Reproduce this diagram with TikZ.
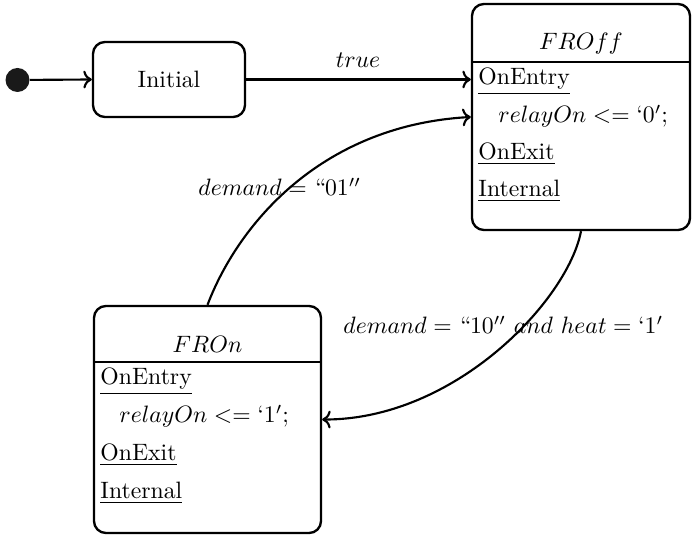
\documentclass[tikz,border=0pt]{standalone}
\usetikzlibrary{arrows.meta}
\begin{document}
\begin{tikzpicture}[x=0.422pt,y=-0.422pt,
  stbox/.style={draw,line width=1pt,rounded corners=5pt,inner sep=0pt},
  dotnode/.style={circle,fill=black!90,inner sep=0pt,minimum size={24*0.422pt}},
  arr/.style={line width=0.9pt,->},
  sepline/.style={line width=1pt},
  row/.style={anchor=base west,inner sep=0pt},
  lbl/.style={inner sep=0pt}]
\useasboundingbox (0,0) rectangle (692,535);
% initial pseudo-state
\node[dotnode] (start) at (17.5,80) {};
\node[stbox,minimum width={152*0.422pt},minimum height={75*0.422pt}] (init) at (169,79.5) {Initial};
% FROff state
\node[stbox,minimum width={218*0.422pt},minimum height={226*0.422pt}] (froff) at (581,117) {};
\draw[sepline] (472,62) -- (690,62);
\node[lbl,anchor=base] (froffT) at (581,50) {$FROff$};
\node[row] (froffA) at (478,85) {\underline{OnEntry}};
\node[row] (froffB) at (498,123) {$relayOn <= `0';$};
\node[row] (froffC) at (478,160) {\underline{OnExit}};
\node[row] (froffD) at (478,197) {\underline{Internal}};
% FROn state
\node[stbox,minimum width={227*0.422pt},minimum height={227*0.422pt}] (fron) at (207.5,419.5) {};
\draw[sepline] (94,362) -- (321,362);
\node[lbl,anchor=base] (fronT) at (207.5,353) {$FROn$};
\node[row] (fronA) at (100,385) {\underline{OnEntry}};
\node[row] (fronB) at (119,423) {$relayOn <= `1';$};
\node[row] (fronC) at (100,461) {\underline{OnExit}};
\node[row] (fronD) at (100,499) {\underline{Internal}};
% transitions
\draw[arr] (start) -- (init.west);
\draw[arr] (init.east) -- (froff.west |- init.east);
\node[lbl,anchor=base] (ltrue) at (358,68) {$true$};
\draw[arr] (fron.north) .. controls (240,220) and (325,125) .. (froff.west);
\node[lbl,anchor=base west] (l01) at (198,196) {$demand = ``01''$};
\draw[arr] (froff.south) .. controls (568,300) and (455,420) .. (fron.east);
\node[lbl,anchor=base west] (l10) at (343,334) {$demand = ``10''\ and\ heat = `1'$};
\end{tikzpicture}
\end{document}
